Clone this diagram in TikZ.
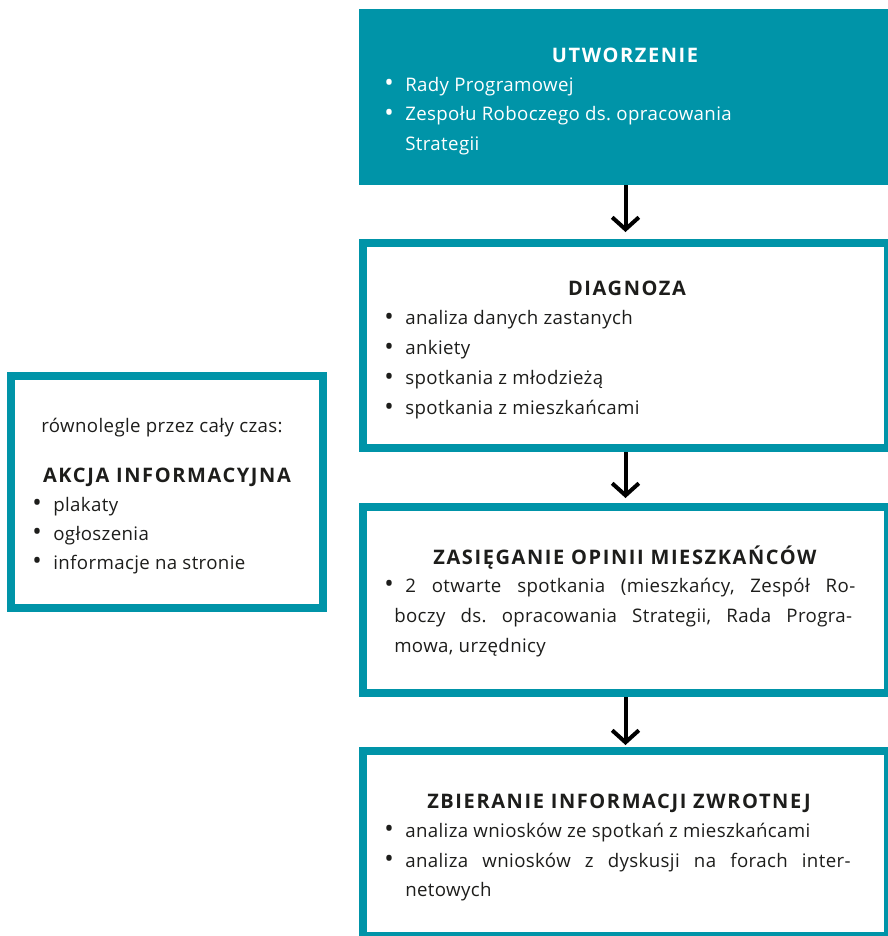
\documentclass[tikz,border=0pt]{standalone}
\usepackage{fontspec}
\setmainfont{Open Sans}[LetterSpace=2]
\newfontfamily\headfont{Open Sans}[LetterSpace=8]
\usetikzlibrary{arrows.meta}
\definecolor{stageteal}{HTML}{0094A8}
\definecolor{ink}{HTML}{1D1D1B}
\newcommand{\bul}{\makebox[15.75pt][l]{\raisebox{-0.5pt}{\scalebox{1.35}{\textbullet}}}}
\frenchspacing

\begin{document}
\begin{tikzpicture}[x=0.75pt,y=-0.75pt,
  stage/.style={rectangle,draw=stageteal,line width=6pt,inner sep=0pt,minimum width=393.75pt},
  side/.style={rectangle,draw=stageteal,line width=6pt,inner sep=0pt,minimum width=234pt,minimum height=174pt},
  head/.style={anchor=base,inner sep=0pt,text=ink,font=\fontsize{15}{18}\selectfont\headfont\bfseries},
  item/.style={anchor=base west,inner sep=0pt,text=ink,font=\fontsize{14}{17}\selectfont},
  flow/.style={line width=3pt,-{Straight Barb[length=9pt,width=20pt]}}]

  \useasboundingbox (0,0) rectangle (888,936);

  % stages
  \node[stage,fill=stageteal,minimum height=126pt] (utw) at (625.5,97) {};
  \node[stage,minimum height=153.75pt] (diag) at (625.5,345.5) {};
  \node[stage,minimum height=139.5pt] (opinie) at (625.5,600) {};
  \node[stage,minimum height=138.75pt] (zwrot) at (625.5,843.5) {};
  \node[side] (akcja) at (167,492) {};

  % utworzenie
  \node[head,text=white] (utwh) at (625,62) {UTWORZENIE};
  \node[item,text=white] (utw1) at (384,91) {\bul Rady Programowej};
  \node[item,text=white] (utw2) at (384,120.5) {\bul Zespołu Roboczego ds. opracowania};
  \node[item,text=white] (utw3) at (405,150) {Strategii};

  % diagnoza
  \node[head] (diagh) at (627,295) {DIAGNOZA};
  \foreach \t [count=\i] in {analiza danych zastanych, ankiety,
      spotkania z młodzieżą, spotkania z mieszkańcami}
    \node[item] (diag\i) at (384,324.5+30*\i-30) {\bul \t};

  % opinie
  \node[head] (opinieh) at (625,564) {ZASIĘGANIE OPINII MIESZKAŃCÓW};
  \node[item] (opinie1) at (384,592) {\bul\makebox[337.5pt][s]{2 otwarte spotkania (mieszkańcy, Zespół Ro-}};
  \node[item] (opinie2) at (394,622) {\makebox[343.5pt][s]{boczy ds. opracowania Strategii, Rada Progra-}};
  \node[item] (opinie3) at (394,652) {mowa, urzędnicy};

  % informacja zwrotna
  \node[head] (zwroth) at (619,808) {ZBIERANIE INFORMACJI ZWROTNEJ};
  \node[item] (zwrot1) at (384,837) {\bul analiza wniosków ze spotkań z mieszkańcami};
  \node[item] (zwrot2) at (384,867) {\bul\makebox[334pt][s]{analiza wniosków z dyskusji na forach inter-}};
  \node[item] (zwrot3) at (405,896) {netowych};

  % akcja informacyjna
  \node[item,anchor=base] (akcjat) at (162,432) {równolegle przez cały czas:};
  \node[head] (akcjah) at (167,482) {AKCJA INFORMACYJNA};
  \foreach \t [count=\i] in {plakaty, ogłoszenia, informacje na stronie}
    \node[item] (akcja\i) at (32,511+29*\i-29) {\bul \t};

  \draw[flow,shorten >=5.25pt] (utw) -- (diag);
  \draw[flow,shorten >=3.75pt] (diag) -- (opinie);
  \draw[flow,shorten >=1.5pt] (opinie) -- (zwrot);
\end{tikzpicture}
\end{document}
